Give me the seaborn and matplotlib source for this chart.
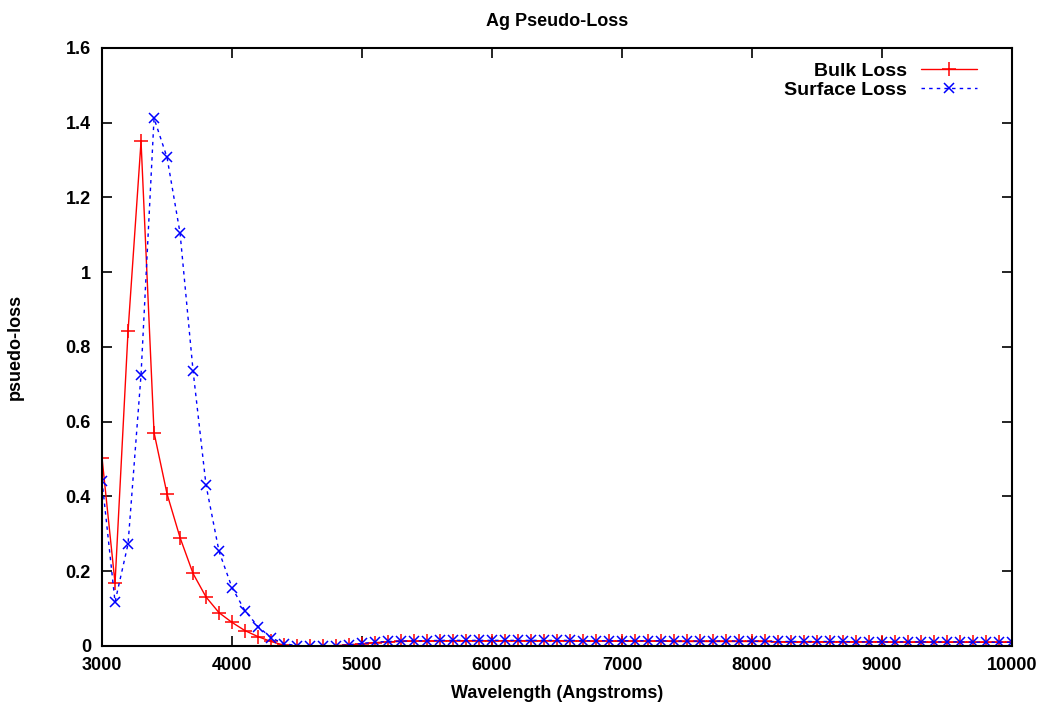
import matplotlib
matplotlib.use("Agg")
import matplotlib.pyplot as plt
import numpy as np
import pandas as pd
import seaborn as sns

# wavelengths 3000..10000 step 100
wavelength = list(range(3000, 10001, 100))

bulk_loss = [
    0.503, 0.168, 0.842, 1.350, 0.571, 0.407, 0.290, 0.194, 0.131, 0.089,
    0.063, 0.041, 0.025, 0.012, 0.002, 0.000, 0.000, 0.000, 0.001, 0.003,
    0.006, 0.009, 0.011, 0.012, 0.013, 0.013, 0.014, 0.014, 0.014, 0.014,
    0.014, 0.014, 0.014, 0.014, 0.014, 0.014, 0.014, 0.013, 0.013, 0.013,
    0.013, 0.013, 0.013, 0.013, 0.012, 0.012, 0.012, 0.012, 0.012, 0.012,
    0.012, 0.012, 0.011, 0.011, 0.011, 0.011, 0.011, 0.011, 0.011, 0.011,
    0.011, 0.010, 0.010, 0.010, 0.010, 0.010, 0.010, 0.010, 0.010, 0.010,
    0.010,
]

surface_loss = [
    0.442, 0.118, 0.273, 0.726, 1.412, 1.307, 1.105, 0.737, 0.430, 0.253,
    0.156, 0.094, 0.052, 0.022, 0.006, 0.001, 0.000, 0.000, 0.001, 0.003,
    0.007, 0.010, 0.012, 0.013, 0.014, 0.014, 0.015, 0.015, 0.015, 0.015,
    0.015, 0.015, 0.015, 0.015, 0.015, 0.015, 0.015, 0.014, 0.014, 0.014,
    0.014, 0.014, 0.014, 0.014, 0.013, 0.013, 0.013, 0.013, 0.013, 0.013,
    0.013, 0.012, 0.012, 0.012, 0.012, 0.012, 0.012, 0.012, 0.011, 0.011,
    0.011, 0.011, 0.011, 0.011, 0.011, 0.011, 0.011, 0.010, 0.010, 0.010,
    0.010,
]

df = pd.DataFrame({"wl": wavelength, "bulk": bulk_loss, "surf": surface_loss})

sns.set_style("ticks")
plt.rcParams["font.family"] = ["Liberation Sans", "DejaVu Sans"]
plt.rcParams["font.weight"] = "bold"
plt.rcParams["text.color"] = "black"
plt.rcParams["axes.labelcolor"] = "black"
plt.rcParams["axes.edgecolor"] = "black"
plt.rcParams["xtick.color"] = "black"
plt.rcParams["ytick.color"] = "black"

fig = plt.figure(figsize=(10.37, 7.13), dpi=100)
ax = fig.add_axes([0.0984, 0.094, 0.8775, 0.8387])

sns.lineplot(data=df, x="wl", y="bulk", ax=ax, color="red", linewidth=1.0,
             marker="+", markersize=10, markeredgewidth=1.1,
             markeredgecolor="red", label="Bulk Loss")
sns.lineplot(data=df, x="wl", y="surf", ax=ax, color="blue", linewidth=1.0,
             linestyle=(0, (2.5, 3)), marker="x", markersize=7.5,
             markeredgewidth=1.1, markeredgecolor="blue", label="Surface Loss")

ax.set_xlim(3000, 10000)
ax.set_ylim(0, 1.6)
ax.set_xticks(range(3000, 10001, 1000))
ax.set_yticks(np.arange(0, 1.61, 0.2))
ax.set_yticklabels(["0", "0.2", "0.4", "0.6", "0.8", "1", "1.2", "1.4", "1.6"])
ax.tick_params(direction="in", length=7, width=1.2, top=True, right=True,
               labelsize=13, pad=8)
for lab in ax.get_xticklabels() + ax.get_yticklabels():
    lab.set_fontweight("bold")
for sp in ax.spines.values():
    sp.set_linewidth(1.5)
    sp.set_visible(True)

ax.set_title("Ag Pseudo-Loss", fontsize=13, fontweight="bold", pad=16)
ax.set_xlabel("Wavelength (Angstroms)", fontsize=13, fontweight="bold", labelpad=8)
ax.set_ylabel("psuedo-loss", fontsize=13, fontweight="bold", labelpad=30)

leg = ax.legend(loc="upper right", frameon=False, markerfirst=False,
                fontsize=14, handlelength=2.9, labelspacing=0.1,
                borderaxespad=1.4, handletextpad=0.7,
                bbox_to_anchor=(1.0, 1.035))
for t in leg.get_texts():
    t.set_fontweight("bold")

fig.savefig("out.png", dpi=100)
